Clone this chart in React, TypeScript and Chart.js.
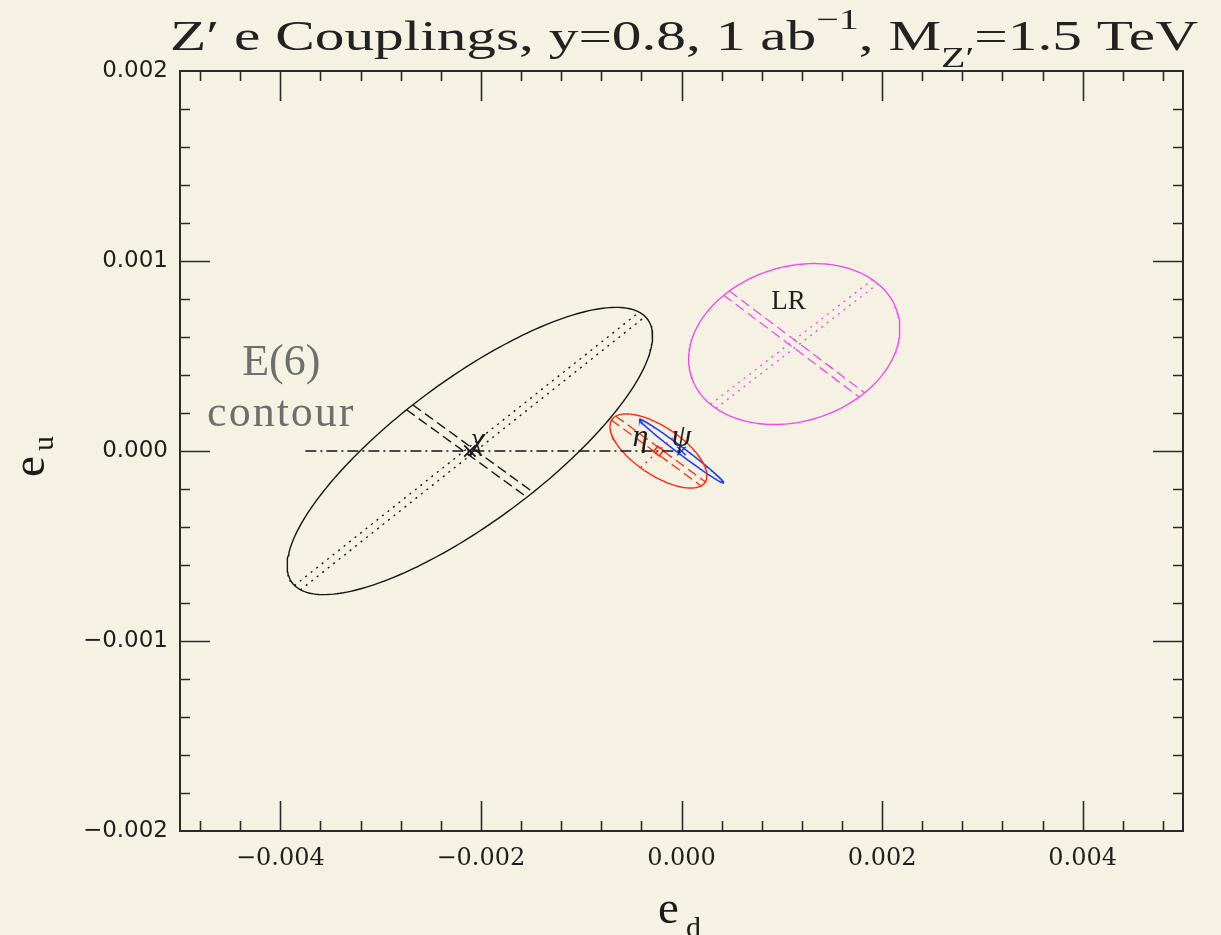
import React, { useEffect, useRef } from "react";
import { Chart, registerables } from "chart.js";
Chart.register(...registerables);

// ---- axis tick labels ----
const xTickValues = [-0.004, -0.002, 0, 0.002, 0.004];
const yTickValues = [-0.002, -0.001, 0, 0.001, 0.002];

// ---- ellipse contours: center, semi-diameter A, conjugate semi-diameter B (data units) ----
const chiCenter = [-0.00211, 0.0];
const chiAxisA = [0.00172, 0.00072]; // dotted
const chiAxisB = [0.0006, -0.00023]; // dashed

const etaCenter = [-0.00023, 0.0];
const etaAxisA = [0.000449, -0.000174]; // dashed
const etaAxisB = [0.000179, 0.000088]; // dotted

const psiCenter = [0.0, 0.0];
const psiAxisA = [0.000419, -0.000167];
const psiAxisB = [0.000021, 0.0000147];

const lrCenter = [0.001124, 0.000563];
const lrAxisA = [0.000675, -0.000268]; // dashed
const lrAxisB = [0.000808, 0.000328]; // dotted

// E(6) contour line
const e6LineX = [-0.00375, 0.0];
const e6LineY = [0.0, 0.0];

// text annotations (data coords)
const labelTexts = ["E(6)", "contour", "LR", "χ", "η", "ψ"];
const labelX = [-0.00399, -0.00399, 0.001067, -0.00203, -0.00041, 0.0];
const labelY = [0.0004, 0.000132, 0.000784, 0.000053, 0.000068, 0.000068];

const BG = "#F6F2E3";
const RED = "#FF2E12";
const BLUE = "#1C3CF2";
const MAG = "#F04CF0";
const BLK = "#151515";

function ellipsePoints(c: number[], a: number[], b: number[], n = 240) {
  const pts: { x: number; y: number }[] = [];
  for (let i = 0; i <= n; i++) {
    const t = (2 * Math.PI * i) / n;
    pts.push({
      x: c[0] + a[0] * Math.cos(t) + b[0] * Math.sin(t),
      y: c[1] + a[1] * Math.cos(t) + b[1] * Math.sin(t),
    });
  }
  return pts;
}

function axisLine(c: number[], a: number[], off: number[], k: number) {
  return [
    { x: c[0] - a[0] + k * off[0], y: c[1] - a[1] + k * off[1] },
    { x: c[0] + a[0] + k * off[0], y: c[1] + a[1] + k * off[1] },
  ];
}

function line(data: any[], color: string, dash: number[] = [], width = 1.4) {
  return {
    data,
    showLine: true,
    borderColor: color,
    borderWidth: width,
    borderDash: dash,
    pointRadius: 0,
    pointHoverRadius: 0,
    fill: false,
    tension: 0,
  };
}

function marker(c: number[], color: string, style: string, radius: number, rotation = 0) {
  return {
    data: [{ x: c[0], y: c[1] }],
    showLine: false,
    pointStyle: style,
    pointRadius: radius,
    pointHoverRadius: radius,
    pointRotation: rotation,
    borderColor: color,
    borderWidth: 1.6,
    backgroundColor: "rgba(0,0,0,0)",
  };
}

const DOT = [2, 5];
const DASH = [10, 5];

const fmt = (v: number) => {
  if (Math.abs(v) < 1e-12) return "0.000";
  const s = Math.abs(v).toFixed(3);
  return v < 0 ? "\u2212" + s : s;
};

const bgPlugin = {
  id: "bg",
  beforeDraw(chart: any) {
    const ctx = chart.ctx;
    ctx.save();
    ctx.fillStyle = BG;
    ctx.fillRect(0, 0, chart.width, chart.height);
    ctx.restore();
  },
};

const framePlugin = {
  id: "frame",
  afterDraw(chart: any) {
    const ctx = chart.ctx;
    const { left, right, top, bottom } = chart.chartArea;
    const xs = chart.scales.x;
    const ys = chart.scales.y;
    ctx.save();
    ctx.strokeStyle = "#2a2a2a";
    ctx.lineWidth = 1.6;
    for (let k = -12; k <= 12; k++) {
      const v = k * 0.0004;
      const px = Math.round(xs.getPixelForValue(v)) + 0.5;
      const len = k % 5 === 0 ? 30 : 10;
      ctx.beginPath();
      ctx.moveTo(px, bottom);
      ctx.lineTo(px, bottom - len);
      ctx.moveTo(px, top);
      ctx.lineTo(px, top + len);
      ctx.stroke();
    }
    for (let k = -9; k <= 9; k++) {
      const v = k * 0.0002;
      const py = Math.round(ys.getPixelForValue(v)) + 0.5;
      const len = k % 5 === 0 ? 30 : 10;
      ctx.beginPath();
      ctx.moveTo(left, py);
      ctx.lineTo(left + len, py);
      ctx.moveTo(right, py);
      ctx.lineTo(right - len, py);
      ctx.stroke();
    }
    ctx.lineWidth = 2;
    ctx.strokeRect(left, top, right - left, bottom - top);

    // title, stretched horizontally to the reference width
    const base = "43px 'Liberation Serif'";
    const small = "29px 'Liberation Serif'";
    const parts = [
      { t: "Z\u2032 e Couplings, y=0.8, 1 ab", f: base, dy: 0 },
      { t: "\u22121", f: small, dy: -21 },
      { t: ", M", f: base, dy: 0 },
      { t: "Z\u2032", f: small, dy: 17 },
      { t: "=1.5 TeV", f: base, dy: 0 },
    ];
    let total = 0;
    const widths: number[] = [];
    for (const p of parts) {
      ctx.font = p.f;
      const w = ctx.measureText(p.t).width;
      widths.push(w);
      total += w;
    }
    const sx = 1028 / total;
    ctx.fillStyle = "#222";
    ctx.textBaseline = "alphabetic";
    ctx.textAlign = "left";
    ctx.translate(170, 50);
    ctx.scale(sx, 1);
    let cx = 0;
    parts.forEach((p, i) => {
      ctx.font = p.f;
      ctx.fillText(p.t, cx, p.dy);
      cx += widths[i];
    });
    ctx.restore();

    // axis titles
    ctx.save();
    ctx.fillStyle = "#1a1a1a";
    ctx.textAlign = "left";
    ctx.textBaseline = "alphabetic";
    ctx.translate(44, 477);
    ctx.rotate(-Math.PI / 2);
    ctx.font = "47px 'Liberation Serif'";
    ctx.fillText("e", 0, 0);
    ctx.font = "30px 'Liberation Serif'";
    ctx.fillText("u", 26, 9);
    ctx.restore();

    ctx.save();
    ctx.fillStyle = "#1a1a1a";
    ctx.textAlign = "left";
    ctx.textBaseline = "alphabetic";
    ctx.font = "47px 'Liberation Serif'";
    ctx.fillText("e", 658, 923);
    ctx.font = "30px 'Liberation Serif'";
    ctx.fillText("d", 686, 937);
    ctx.restore();
  },
};

const labelPlugin = {
  id: "labels",
  afterDatasetsDraw(chart: any) {
    const ctx = chart.ctx;
    const xs = chart.scales.x;
    const ys = chart.scales.y;
    const styles = [
      { font: "44px 'Liberation Serif'", color: "#6e6e6e", base: "alphabetic", ls: "0px" },
      { font: "44px 'Liberation Serif'", color: "#6e6e6e", base: "alphabetic", ls: "2px" },
      { font: "27px 'Liberation Serif'", color: "#1e1e1e", base: "middle", ls: "0px" },
      { font: "italic 32px 'Liberation Serif'", color: "#1e1e1e", base: "middle", ls: "0px" },
      { font: "italic 32px 'Liberation Serif'", color: "#1e1e1e", base: "middle", ls: "0px" },
      { font: "italic 32px 'Liberation Serif'", color: "#1e1e1e", base: "middle", ls: "0px" },
    ];
    ctx.save();
    ctx.textAlign = "center";
    labelTexts.forEach((t, i) => {
      const s = styles[i];
      ctx.font = s.font;
      ctx.fillStyle = s.color;
      ctx.textBaseline = s.base;
      (ctx as any).letterSpacing = s.ls;
      ctx.fillText(t, xs.getPixelForValue(labelX[i]), ys.getPixelForValue(labelY[i]));
    });
    (ctx as any).letterSpacing = "0px";
    ctx.restore();
  },
};

export default function App() {
  const ref = useRef<HTMLCanvasElement>(null);
  useEffect(() => {
    document.body.style.background = BG;
    const datasets: any[] = [
      // chi
      line(ellipsePoints(chiCenter, chiAxisA, chiAxisB), BLK, [], 1.4),
      line(axisLine(chiCenter, chiAxisA, chiAxisB, 0.05), BLK, DOT, 1.4),
      line(axisLine(chiCenter, chiAxisA, chiAxisB, -0.05), BLK, DOT, 1.4),
      line(axisLine(chiCenter, chiAxisB, chiAxisA, 0.018), BLK, DASH, 1.4),
      line(axisLine(chiCenter, chiAxisB, chiAxisA, -0.018), BLK, DASH, 1.4),
      marker(chiCenter, BLK, "crossRot", 8),
      // E6 line
      line(e6LineX.map((x, i) => ({ x, y: e6LineY[i] })), BLK, [11, 4, 2, 4], 1.4),
      // eta
      line(ellipsePoints(etaCenter, etaAxisA, etaAxisB), RED, [], 1.4),
      line(axisLine(etaCenter, etaAxisA, etaAxisB, 0.12), RED, DASH, 1.3),
      line(axisLine(etaCenter, etaAxisA, etaAxisB, -0.12), RED, DASH, 1.3),
      line(axisLine(etaCenter, etaAxisB, etaAxisA, 0), RED, DOT, 1.4),
      marker(etaCenter, RED, "rect", 5, 37),
      // psi
      line(ellipsePoints(psiCenter, psiAxisA, psiAxisB), BLUE, [], 1.5),
      marker(psiCenter, BLUE, "crossRot", 6),
      // LR
      line(ellipsePoints(lrCenter, lrAxisA, lrAxisB), MAG, [], 1.4),
      line(axisLine(lrCenter, lrAxisA, lrAxisB, 0.034), MAG, DASH, 1.3),
      line(axisLine(lrCenter, lrAxisA, lrAxisB, -0.034), MAG, DASH, 1.3),
      line(axisLine(lrCenter, lrAxisB, lrAxisA, 0.04), MAG, DOT, 1.4),
      line(axisLine(lrCenter, lrAxisB, lrAxisA, -0.04), MAG, DOT, 1.4),
    ];
    const chart = new Chart(ref.current as HTMLCanvasElement, {
      type: "scatter",
      data: { datasets },
      options: {
        animation: false,
        responsive: false,
        devicePixelRatio: 1,
        layout: { padding: { top: 71, right: 38, left: 0, bottom: 0 } },
        plugins: {
          legend: { display: false },
          tooltip: { enabled: false },
          title: { display: false },
        },
        events: [],
        scales: {
          x: {
            type: "linear",
            min: -0.005,
            max: 0.005,
            grid: { display: false, drawTicks: false },
            border: { display: false },
            afterBuildTicks: (s: any) => {
              s.ticks = xTickValues.map((v) => ({ value: v }));
            },
            afterFit: (s: any) => {
              s.height = 104;
            },
            ticks: {
              autoSkip: false,
              maxRotation: 0,
              padding: 13,
              color: "#1e1e1e",
              font: { family: "'DejaVu Serif'", size: 24 },
              callback: (v: any) => fmt(Number(v)),
            },
          },
          y: {
            type: "linear",
            min: -0.002,
            max: 0.002,
            grid: { display: false, drawTicks: false },
            border: { display: false },
            afterBuildTicks: (s: any) => {
              s.ticks = yTickValues.map((v) => ({ value: v }));
            },
            afterFit: (s: any) => {
              s.width = 180;
            },
            ticks: {
              autoSkip: false,
              padding: 12,
              color: "#1e1e1e",
              font: { family: "'DejaVu Sans'", size: 23 },
              callback: (v: any) => fmt(Number(v)),
            },
          },
        },
      } as any,
      plugins: [bgPlugin, labelPlugin, framePlugin],
    });
    return () => chart.destroy();
  }, []);
  return (
    <div style={{ position: "absolute", left: 0, top: 0, width: 1221, height: 935 }}>
      <canvas ref={ref} width={1221} height={935} style={{ width: 1221, height: 935, display: "block" }} />
    </div>
  );
}
